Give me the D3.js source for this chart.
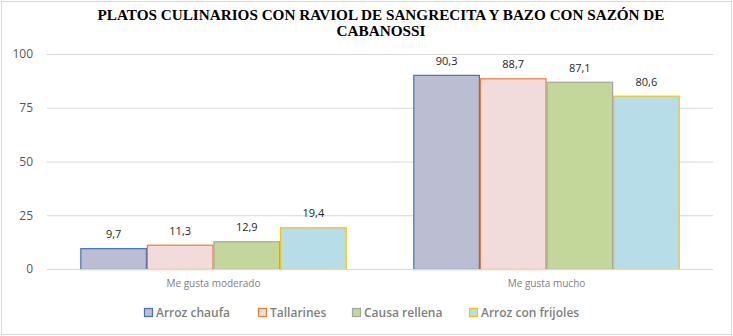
<!DOCTYPE html>
<html>
<head>
<meta charset="utf-8">
<script src="https://cdn.jsdelivr.net/npm/d3@7"></script>
<style>
  body { margin: 0; background: #fff; }
  svg { display: block; }
</style>
</head>
<body>
<svg width="733" height="336"></svg>
<script>
// datos del gráfico
const categorias = ["Me gusta moderado", "Me gusta mucho"];
const series = ["Arroz chaufa", "Tallarines", "Causa rellena", "Arroz con frijoles"];
const valores = [
  [9.7, 90.3],
  [11.3, 88.7],
  [12.9, 87.1],
  [19.4, 80.6]
];
const ticksY = [0, 25, 50, 75, 100];

const relleno = ["#BBBDD3", "#F2DCDB", "#C4D79B", "#B7DDE8"];
const borde = ["#4472C4", "#ED7D31", "#A5A5A5", "#FFC000"];

const svg = d3.select("svg");
const area = { left: 47, right: 713, top: 54, bottom: 269 };

// marco exterior
svg.append("rect")
  .attr("x", 1.5).attr("y", 1.5)
  .attr("width", 730).attr("height", 333)
  .attr("fill", "#fff")
  .attr("stroke", "#D9D9D9");

// título (dos líneas, ancho ajustado al original)
const titulo = svg.append("text")
  .attr("text-anchor", "middle")
  .style("font-family", "'Liberation Serif', 'Times New Roman', serif")
  .style("font-weight", "bold")
  .style("font-size", "14px")
  .attr("fill", "#000");
titulo.append("tspan").attr("x", 381).attr("y", 20)
  .attr("textLength", 567).attr("lengthAdjust", "spacingAndGlyphs")
  .text("PLATOS CULINARIOS CON RAVIOL DE SANGRECITA Y BAZO CON SAZÓN DE");
titulo.append("tspan").attr("x", 381).attr("y", 36)
  .attr("textLength", 89).attr("lengthAdjust", "spacingAndGlyphs")
  .text("CABANOSSI");

// gap width 100%: el grupo ocupa el 80% de la banda
const scX0 = d3.scaleBand().domain(categorias).range([area.left, area.right]);
const scSerie = d3.scaleBand().domain(series).range([0, scX0.bandwidth() * 0.8]);

const scY = d3.scaleLinear().domain([0, 100]).range([area.bottom, area.top]);

// líneas de cuadrícula y eje Y
const ejeY = svg.append("g")
  .attr("transform", `translate(${area.left},0)`)
  .call(d3.axisLeft(scY).tickValues(ticksY).tickSize(-(area.right - area.left)).tickPadding(14));
ejeY.select(".domain").remove();
ejeY.selectAll("line").attr("stroke", "#D9D9D9");
ejeY.selectAll("text")
  .attr("fill", "#595959")
  .style("font-family", "'Open Sans', 'Liberation Sans', sans-serif")
  .style("font-size", "12px");

// barras
series.forEach((s, i) => {
  const g = svg.append("g");
  const datos = categorias.map((c, j) => ({ c, v: valores[i][j] }));
  g.selectAll("rect")
    .data(datos)
    .enter()
    .append("rect")
    .attr("x", d => scX0(d.c) + scX0.bandwidth() * 0.1 + scSerie(s) + 0.5)
    .attr("y", d => scY(d.v) + 0.5)
    .attr("width", scSerie.bandwidth() - 1)
    .attr("height", d => scY(0) - scY(d.v))
    .attr("fill", relleno[i])
    .attr("stroke", borde[i])
    .attr("stroke-width", 1.2);
  g.selectAll("text")
    .data(datos)
    .enter()
    .append("text")
    .attr("x", d => scX0(d.c) + scX0.bandwidth() * 0.1 + scSerie(s) + scSerie.bandwidth() / 2)
    .attr("y", d => scY(d.v) - 10)
    .attr("text-anchor", "middle")
    .attr("fill", "#262626")
    .style("font-family", "'Open Sans', 'Liberation Sans', sans-serif")
    .style("font-size", "11px")
    .text(d => String(d.v).replace(".", ","));
});

// eje X
svg.append("line")
  .attr("x1", area.left).attr("x2", area.right)
  .attr("y1", area.bottom + 0.5).attr("y2", area.bottom + 0.5)
  .attr("stroke", "#D9D9D9");
svg.selectAll(".cat")
  .data(categorias)
  .enter()
  .append("text")
  .attr("x", d => scX0(d) + scX0.bandwidth() / 2)
  .attr("y", 287)
  .attr("text-anchor", "middle")
  .attr("fill", "#7F7F7F")
  .style("font-family", "'Open Sans', 'Liberation Sans', sans-serif")
  .style("font-size", "10px")
  .text(d => d);

// leyenda
const leyendaX = [144, 258, 352, 469];
const leyenda = svg.append("g");
series.forEach((s, i) => {
  leyenda.append("rect")
    .attr("x", leyendaX[i] + 0.5).attr("y", 308.5)
    .attr("width", 8).attr("height", 8)
    .attr("fill", relleno[i])
    .attr("stroke", borde[i])
    .attr("stroke-width", 1.2);
  leyenda.append("text")
    .attr("x", leyendaX[i] + 12).attr("y", 317)
    .attr("fill", "#7F7F7F")
    .style("font-family", "'Open Sans', 'Liberation Sans', sans-serif")
    .style("font-size", "12px")
    .style("font-weight", "600")
    .text(s);
});
</script>
</body>
</html>
